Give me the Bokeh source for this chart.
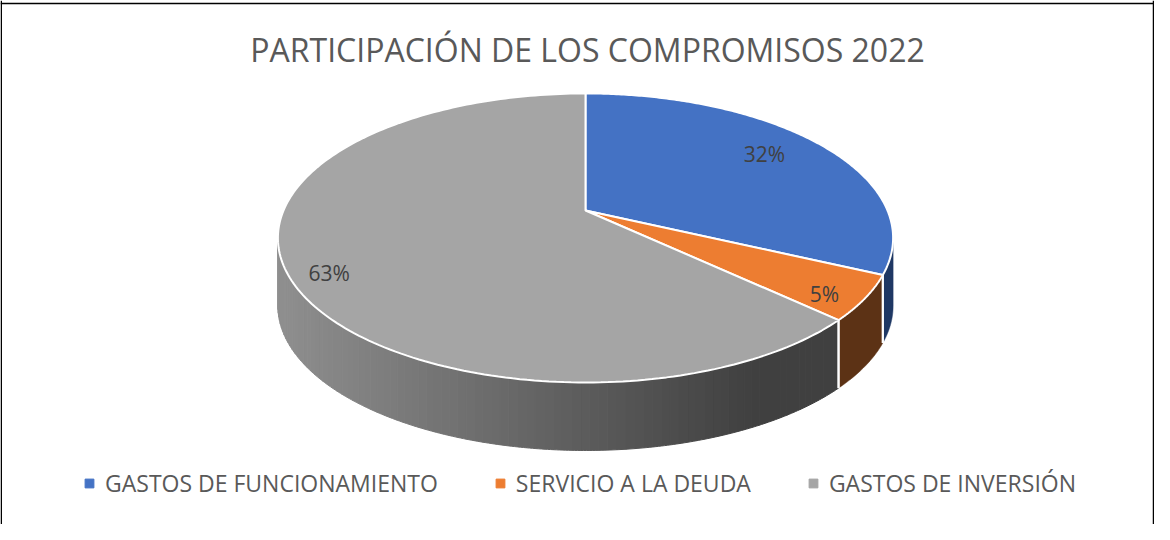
import numpy as np
from bokeh.plotting import figure
from bokeh.models import Range1d, Span, Legend, LegendItem, ColumnDataSource, Label
from bokeh.core.properties import value
from bokeh.embed import file_html
from bokeh.resources import INLINE

# ---------------- data ----------------
chart_title = "PARTICIPACIÓN DE LOS COMPROMISOS 2022"
categories = ["GASTOS DE FUNCIONAMIENTO", "SERVICIO A LA DEUDA", "GASTOS DE INVERSIÓN"]
values = [32, 5, 63]
top_colors = ["#4472C4", "#ED7D31", "#A5A5A5"]
side_colors = ["#1F3864", "#5C3215", None]  # None -> shaded gray gradient
gray_side_light = (0x8E, 0x8E, 0x8E)
gray_side_dark = (0x40, 0x40, 0x40)

# ---------------- layout ----------------
W, H = 1154, 524
FONT = "Open Sans"
cx, cy = 585.0, 210.0      # pie centre (plot px)
A, B, K = 302.0, 139.3, 0.19  # perspective projection params
DEPTH = 68.0
# label placement: radius fraction and angular offset (deg) from slice middle
lab_r = [0.78, 0.89, 0.885]
lab_dtheta = [-2.2, 2.8, -4.6]

p = figure(width=W, height=H, output_backend="svg", toolbar_location=None,
           x_range=Range1d(0, W), y_range=Range1d(H, 0),
           x_axis_location=None, y_axis_location=None, min_border=0)
p.grid.visible = False
p.outline_line_color = None
p.background_fill_color = "white"
p.border_fill_color = "white"


def proj(theta, dz=0.0, r=1.0):
    u, v = r * np.sin(theta), r * np.cos(theta)
    w = 1.0 + K * v
    return cx + A * u / w, cy - B * v / w + dz


total = float(sum(values))
fracs = np.array(values) / total
bounds = np.concatenate([[0.0], np.cumsum(fracs)]) * 2 * np.pi

th_r = np.arccos(-K)
th_l = 2 * np.pi - th_r


def lerp_col(t):
    t = min(max(t, 0.0), 1.0)
    c = [int(round(a + (b - a) * t)) for a, b in zip(gray_side_light, gray_side_dark)]
    return "#%02x%02x%02x" % tuple(c)


# ---- sides ----
sep_x0, sep_y0, sep_x1, sep_y1 = [], [], [], []
for i in range(len(values)):
    a0, a1 = bounds[i], bounds[i + 1]
    s0, s1 = max(a0, th_r), min(a1, th_l)
    if s1 <= s0:
        continue
    if side_colors[i] is not None:
        t = np.linspace(s0, s1, 60)
        xt, yt = proj(t)
        xb, yb = proj(t[::-1], DEPTH)
        p.patch(np.concatenate([xt, xb]), np.concatenate([yt, yb]),
                fill_color=side_colors[i], line_color=side_colors[i], line_width=0.5)
    else:
        n = 90
        ts = np.linspace(s0, s1, n + 1)
        xs_all, ys_all, cols = [], [], []
        for j in range(n):
            t = np.linspace(ts[j], ts[j + 1], 4)
            xt, yt = proj(t)
            xb, yb = proj(t[::-1], DEPTH)
            xm = float(np.mean(xt))
            col = lerp_col((xm + 8 - 290.0) / (760.0 - 290.0))
            xs_all.append(list(np.concatenate([xt, xb])))
            ys_all.append(list(np.concatenate([yt, yb])))
            cols.append(col)
        src = ColumnDataSource(dict(xs=xs_all, ys=ys_all, c=cols))
        p.patches("xs", "ys", source=src, fill_color="c", line_color="c", line_width=1)
    for ang in (a0, a1):
        if th_r < ang < th_l:
            x0, y0 = proj(ang)
            x1, y1 = proj(ang, DEPTH)
            sep_x0.append(x0); sep_y0.append(y0); sep_x1.append(x1); sep_y1.append(y1)

p.segment(sep_x0, sep_y0, sep_x1, sep_y1, line_color="white", line_width=2)

# ---- tops ----
for i in range(len(values)):
    t = np.linspace(bounds[i], bounds[i + 1], 200)
    xt, yt = proj(t)
    xs = np.concatenate([[cx], xt, [cx]])
    ys = np.concatenate([[cy], yt, [cy]])
    p.patch(xs, ys, fill_color=top_colors[i], line_color="white", line_width=2)

# ---- data labels ----
pct_labels = ["%d%%" % round(f * 100) for f in fracs]
lx, ly = [], []
for i in range(len(values)):
    mid = (bounds[i] + bounds[i + 1]) / 2 + np.radians(lab_dtheta[i])
    x, y = proj(mid, 0.0, lab_r[i])
    lx.append(float(x)); ly.append(float(y))
p.text(x=lx, y=ly, text=pct_labels, text_align="center", text_baseline="middle",
       text_font=value(FONT), text_font_size="21px", text_color="#404040")

# ---- title ----
p.add_layout(Label(x=W / 2 + 10, y=49, text=chart_title, text_align="center",
                   text_baseline="middle", text_font=FONT, text_font_size="32px",
                   text_color="#595959"))

# ---- frame lines ----
p.add_layout(Span(location=3, dimension="width", line_color="black", line_width=1.5))
p.add_layout(Span(location=0.75, dimension="height", line_color="black", line_width=1.5))
p.add_layout(Span(location=W - 1, dimension="height", line_color="black", line_width=1.5))

# ---- legend ----
legend = Legend(items=[], orientation="horizontal", location=(78, 25),
                glyph_width=22, glyph_height=22, label_height=22, label_standoff=5,
                spacing=51, padding=0, margin=0, border_line_color=None,
                background_fill_alpha=0, label_text_font=FONT,
                label_text_font_size="23px", label_text_color="#595959")
for i in range(len(values)):
    r = p.scatter(x=[-100], y=[-100], marker="square", color=top_colors[i], size=9)
    legend.items.append(LegendItem(label=categories[i], renderers=[r]))
p.add_layout(legend, "center")

open("out.html", "w").write(file_html(p, INLINE))
